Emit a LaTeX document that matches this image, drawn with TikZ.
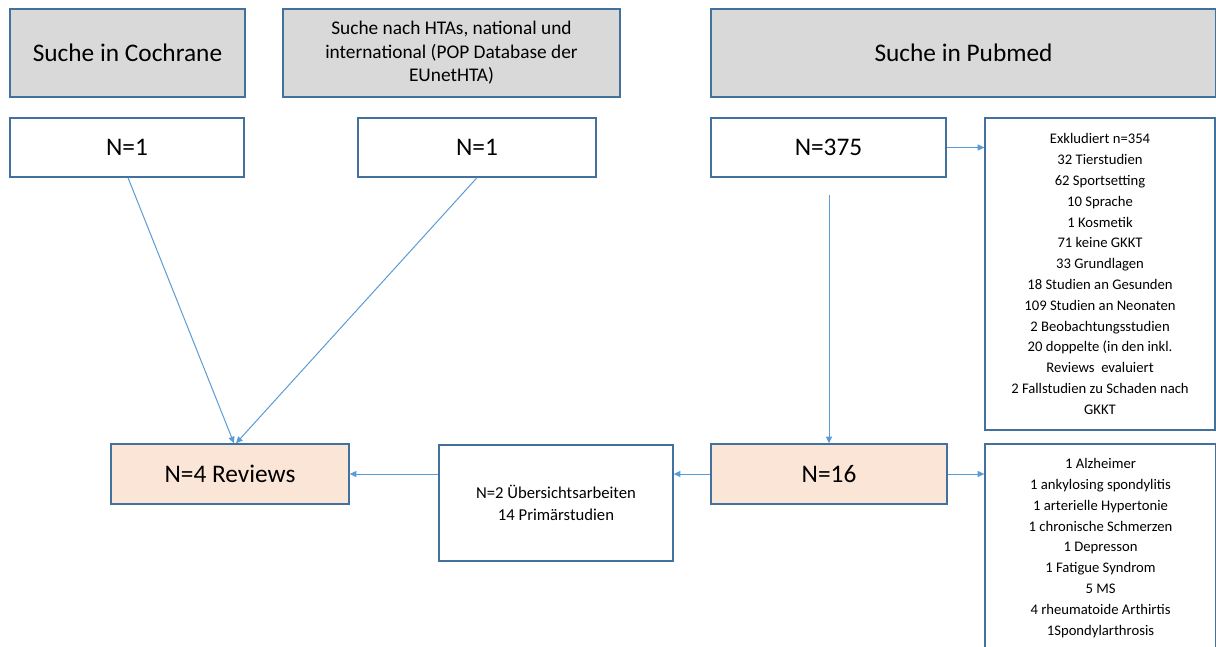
\documentclass[tikz,border=0pt]{standalone}
\usepackage{fontspec}
\setmainfont{Carlito}
\usetikzlibrary{arrows.meta}
\definecolor{bord}{HTML}{41719C}
\definecolor{conn}{HTML}{5B9BD5}
\definecolor{grayfill}{HTML}{D9D9D9}
\definecolor{peach}{HTML}{FBE5D6}
\begin{document}
\begin{tikzpicture}[x=0.75pt,y=-0.75pt,
  box/.style={draw=bord, line width=1pt, inner sep=0pt, align=center},
  gbox/.style={box, fill=grayfill},
  wbox/.style={box, fill=white},
  pbox/.style={box, fill=peach},
  big/.style={font=\fontsize{19}{23}\selectfont},
  mid/.style={font=\fontsize{14.5}{17.7}\selectfont},
  lst/.style={font=\fontsize{11}{15.6}\selectfont},
  sml/.style={font=\fontsize{12.5}{16.5}\selectfont},
  conn/.style={draw=conn, line width=0.75pt, -{Triangle[length=5pt,width=4.5pt]}}]
\useasboundingbox (0,0) rectangle (1216,646);
\clip (0,0) rectangle (1216,646);
% top row
\node[gbox, big, minimum width=176.25pt, minimum height=66pt] (cochrane) at (127.5,53) {Suche in Cochrane};
\node[gbox, mid, minimum width=252.75pt, minimum height=66pt] (hta) at (451.5,53) {Suche nach HTAs, national und\\international (POP Database der\\EUnetHTA)};
\node[gbox, big, minimum width=378.75pt, minimum height=66pt] (pubmed) at (963.5,53) {Suche in Pubmed};
% second row
\node[wbox, big, minimum width=175.5pt, minimum height=44.25pt] (n1a) at (127,147.5) {N=1};
\node[wbox, big, minimum width=178.5pt, minimum height=44.25pt] (n1b) at (477,147.5) {N=1};
\node[wbox, big, minimum width=176.25pt, minimum height=44.25pt] (n375) at (828.5,147.5) {N=375};
\node[wbox, lst, minimum width=172.5pt, minimum height=234pt] (excl) at (1100,274) {Exkludiert n=354\\32 Tierstudien\\62 Sportsetting\\10 Sprache\\1 Kosmetik\\71 keine GKKT\\33 Grundlagen\\18 Studien an Gesunden\\109 Studien an Neonaten\\2 Beobachtungsstudien\\20 doppelte (in den inkl.\\Reviews\ \ evaluiert\\2 Fallstudien zu Schaden nach\\GKKT};
% third row
\node[pbox, big, minimum width=178.5pt, minimum height=45pt] (n4) at (230,474) {N=4 Reviews};
\node[wbox, sml, minimum width=175.5pt, minimum height=87pt] (uebers) at (556,503) {N=2 Übersichtsarbeiten\\14 Primärstudien};
\node[pbox, big, minimum width=177pt, minimum height=45pt] (n16) at (829,474) {N=16};
\node[wbox, lst, minimum width=173.25pt, minimum height=156pt] (diag) at (1100.5,548) {1 Alzheimer\\1 ankylosing spondylitis\\1 arterielle Hypertonie\\1 chronische Schmerzen\\1 Depresson\\1 Fatigue Syndrom\\5 MS\\4 rheumatoide Arthirtis\\1Spondylarthrosis};
% connectors
\coordinate (n375out) at (829,195);
\draw[conn] ([xshift=0.75pt]n1a.south) -- ([xshift=3pt]n4.north);
\draw[conn] (n1b.south) -- ([xshift=4.5pt]n4.north);
\draw[conn] (n375out) -- (n375out |- n16.north);
\draw[conn] (n375.east) -- (n375.east -| excl.west);
\draw[conn] (n16.west) -- (n16.west -| uebers.east);
\draw[conn] (n16.west -| uebers.west) -- (n16.west -| n4.east);
\draw[conn] (n16.east) -- (n16.east -| diag.west);
\end{tikzpicture}
\end{document}
